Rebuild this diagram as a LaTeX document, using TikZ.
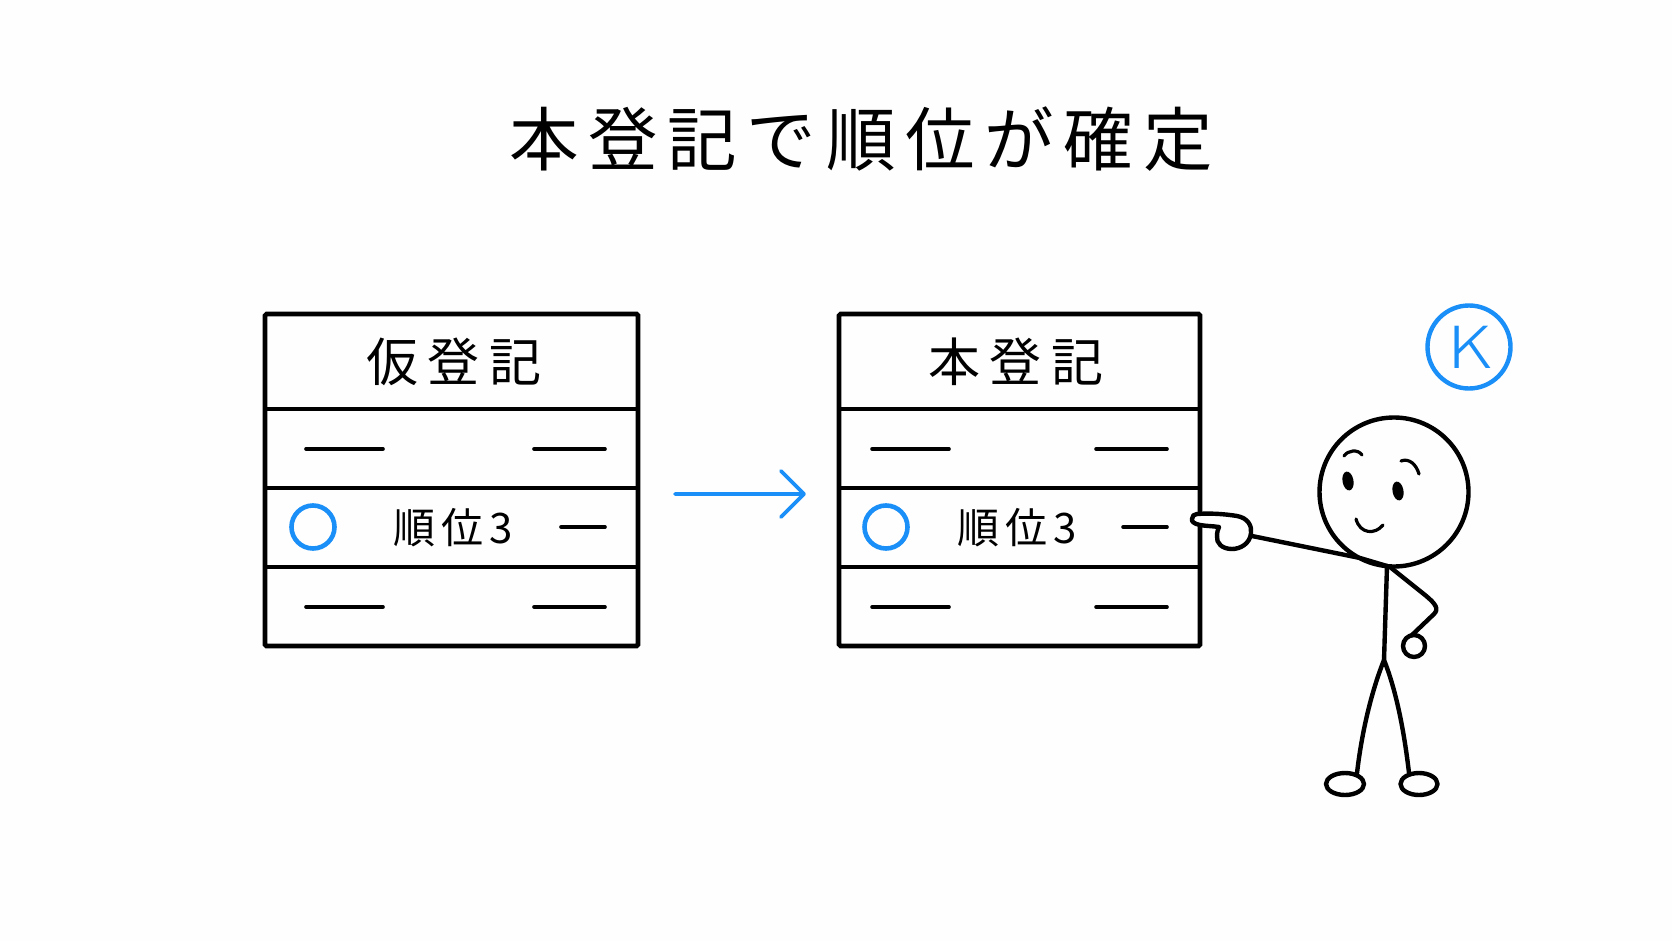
\documentclass[tikz,border=0pt]{standalone}
\usepackage{fontspec}
\usetikzlibrary{shapes.geometric}
\setmainfont{Noto Sans CJK JP}
\newfontfamily\lightface{Noto Sans CJK JP}[UprightFont=* Light]
\definecolor{accent}{HTML}{1A8FF7}
\definecolor{paper}{HTML}{FEFEFE}
\tikzset{
  x=1pt,y=-1pt,
  ink/.style={draw=black,line width=4.4pt,line join=round,line cap=round},
  facemark/.style={draw=black,line width=3.2pt,line join=round,line cap=round},
  tablebox/.style={draw=black,line width=4.6pt,rounded corners=1.5pt,fill=none},
  rule/.style={draw=black,line width=4pt},
  dashbar/.style={draw=black,line width=3.6pt,line cap=round},
  markring/.style={circle,draw=accent,line width=4.6pt,inner sep=0pt,minimum size=43pt},
  headtext/.style={inner sep=0pt,font=\addfontfeatures{LetterSpace=19}\fontsize{52}{60}\selectfont},
  rowtext/.style={inner sep=0pt,font=\addfontfeatures{LetterSpace=15}\fontsize{42}{48}\selectfont},
  titletext/.style={inner sep=0pt,font=\addfontfeatures{LetterSpace=14}\fontsize{69.5}{80}\selectfont},
}
\begin{document}
\begin{tikzpicture}
\useasboundingbox (0,0) rectangle (1672,941);
\fill[paper] (0,0) rectangle (1672,941);

% heading
\node[titletext] (title) at (861,139) {本登記で順位が確定};

% left table
\node[tablebox,minimum width=373pt,minimum height=332pt,inner sep=0pt] (tableA) at (451.5,480) {};
\draw[rule] (265,409) -- (638,409) (265,488) -- (638,488) (265,567) -- (638,567);
\node[headtext] (headA) at (454,362) {仮登記};
\draw[dashbar] (306,449) -- (383,449) (534,449) -- (605,449);
\node[markring] (ringA) at (313,527) {};
\node[rowtext] (rankA) at (453,528) {順位3};
\draw[dashbar] (561,527) -- (605,527);
\draw[dashbar] (306,607) -- (383,607) (534,607) -- (605,607);

% right table
\node[tablebox,minimum width=361pt,minimum height=332pt,inner sep=0pt] (tableB) at (1019.5,480) {};
\draw[rule] (839,409) -- (1200,409) (839,488) -- (1200,488) (839,567) -- (1200,567);
\node[headtext] (headB) at (1016,362) {本登記};
\draw[dashbar] (872,449) -- (949,449) (1096,449) -- (1167,449);
\node[markring] (ringB) at (886,527) {};
\node[rowtext] (rankB) at (1017,528) {順位3};
\draw[dashbar] (1123,527) -- (1167,527);
\draw[dashbar] (872,607) -- (949,607) (1096,607) -- (1167,607);

% transition arrow
\coordinate (flowStart) at (675,494);
\coordinate (flowEnd) at (804,494);
\draw[accent,line width=3.8pt,line cap=round,line join=round]
  (flowStart) -- (flowEnd) (781,471) -- (flowEnd) -- (781,517);

% badge
\node[circle,draw=accent,line width=4.4pt,minimum size=83pt,inner sep=0pt] (badge) at (1469,347) {};
\node[text=accent,inner sep=0pt,xscale=1.22,font=\lightface\fontsize{58}{60}\selectfont] (badgeK) at (1470,347) {K};

% figure: head and face
\node[circle,ink,minimum size=149pt,inner sep=0pt] (head) at (1394,492) {};
\fill[rotate around={10:(1348,481)}] (1348,481) ellipse [x radius=5.5,y radius=9.5];
\fill[rotate around={10:(1398,491)}] (1398,491) ellipse [x radius=5.5,y radius=9.5];
\draw[facemark] (1344,456) .. controls (1348,450) and (1358,449) .. (1362,455);
\draw[facemark] (1401,461) .. controls (1409,458) and (1416,464) .. (1419,474);
\draw[facemark] (1356,519) .. controls (1360,534) and (1375,535) .. (1383,525);

% figure: pointing arm and hand
\draw[ink] (1252,536) -- (1360,558) -- (1387,566);
\draw[ink,fill=white] (1197,514) .. controls (1210,513) and (1225,514) .. (1237,516)
  .. controls (1248,518) and (1252,526) .. (1251,533)
  .. controls (1250,544) and (1240,549) .. (1232,549)
  .. controls (1222,549) and (1216,543) .. (1217,536)
  .. controls (1217,532) and (1218,529) .. (1219,527)
  .. controls (1212,526) and (1205,526) .. (1200,525)
  .. controls (1194,524) and (1191,521) .. (1192,519)
  .. controls (1192,516) and (1194,514) .. (1197,514) -- cycle;

% figure: body, other arm, legs, feet
\draw[ink] (1387,566) -- (1384,660);
\draw[ink] (1390,567) -- (1425,595) .. controls (1436,604) and (1439,609) .. (1434,614) -- (1412,635);
\node[circle,ink,minimum size=22pt,inner sep=0pt] (fist) at (1414,646) {};
\draw[ink] (1357,773) .. controls (1362,730) and (1372,690) .. (1384,660)
  .. controls (1396,690) and (1404,730) .. (1409,773);
\node[ellipse,ink,minimum width=38pt,minimum height=22pt,inner sep=0pt] (footL) at (1345,784) {};
\node[ellipse,ink,minimum width=37pt,minimum height=22pt,inner sep=0pt] (footR) at (1419,784) {};
\end{tikzpicture}
\end{document}
